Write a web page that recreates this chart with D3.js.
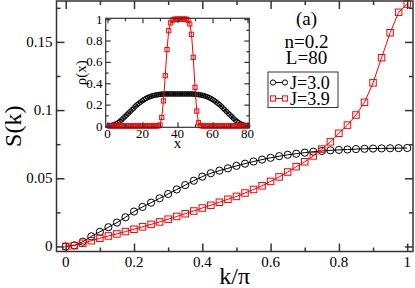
<!DOCTYPE html>
<html>
<head>
<meta charset="utf-8">
<script src="https://cdnjs.cloudflare.com/ajax/libs/d3/7.8.5/d3.min.js"></script>
<style>
  body { margin: 0; background: #fff; }
</style>
</head>
<body>
<div id="chart"></div>
<script>
// k/pi grid, m/40 for m = 0..40
var kvals = [0, 0.025, 0.05, 0.075, 0.1, 0.125, 0.15, 0.175, 0.2, 0.225, 0.25,
  0.275, 0.3, 0.325, 0.35, 0.375, 0.4, 0.425, 0.45, 0.475, 0.5,
  0.525, 0.55, 0.575, 0.6, 0.625, 0.65, 0.675, 0.7, 0.725, 0.75,
  0.775, 0.8, 0.825, 0.85, 0.875, 0.9, 0.925, 0.95, 0.975, 1];

// S(k) for J=3.0 (circles)
var skJ30 = [0, 0.0008, 0.0035, 0.0074, 0.0107, 0.0141, 0.0175, 0.0214, 0.0256, 0.029, 0.0321,
  0.0353, 0.0385, 0.0418, 0.045, 0.0482, 0.0512, 0.0537, 0.0556, 0.0573, 0.0591,
  0.0607, 0.0623, 0.0637, 0.065, 0.0662, 0.0672, 0.068, 0.0688, 0.0695, 0.07,
  0.0705, 0.0708, 0.0711, 0.0714, 0.0716, 0.0718, 0.0719, 0.072, 0.0721, 0.0722];

// S(k) for J=3.9 (squares)
var skJ39 = [0, 0.0006, 0.0023, 0.0042, 0.006, 0.0077, 0.0092, 0.0109, 0.0126, 0.0144, 0.0162,
  0.018, 0.02, 0.022, 0.024, 0.026, 0.0282, 0.0302, 0.0324, 0.0346, 0.0367,
  0.0392, 0.0418, 0.0445, 0.0477, 0.051, 0.0546, 0.0585, 0.0621, 0.0664, 0.0714,
  0.0767, 0.083, 0.089, 0.0964, 0.1057, 0.12, 0.1384, 0.1567, 0.1717, 0.1778];

// inset: site index 1..80
var sites = [1, 2, 3, 4, 5, 6, 7, 8, 9, 10, 11, 12, 13, 14, 15, 16, 17, 18, 19, 20,
  21, 22, 23, 24, 25, 26, 27, 28, 29, 30, 31, 32, 33, 34, 35, 36, 37, 38, 39, 40,
  41, 42, 43, 44, 45, 46, 47, 48, 49, 50, 51, 52, 53, 54, 55, 56, 57, 58, 59, 60,
  61, 62, 63, 64, 65, 66, 67, 68, 69, 70, 71, 72, 73, 74, 75, 76, 77, 78, 79, 80];

var rhoJ30 = [0.003, 0.005, 0.008, 0.013, 0.02, 0.03, 0.042, 0.056, 0.072, 0.088,
  0.104, 0.12, 0.136, 0.152, 0.167, 0.186, 0.2, 0.213, 0.225, 0.237,
  0.248, 0.258, 0.266, 0.273, 0.279, 0.284, 0.288, 0.291, 0.294, 0.296,
  0.298, 0.299, 0.3, 0.3, 0.3, 0.3, 0.3, 0.3, 0.3, 0.3,
  0.3, 0.3, 0.3, 0.3, 0.3, 0.3, 0.3, 0.3, 0.299, 0.298,
  0.296, 0.294, 0.291, 0.288, 0.284, 0.279, 0.273, 0.266, 0.258, 0.248,
  0.237, 0.225, 0.213, 0.2, 0.186, 0.167, 0.152, 0.136, 0.12, 0.104,
  0.088, 0.072, 0.056, 0.042, 0.03, 0.02, 0.013, 0.008, 0.005, 0.003];

var rhoJ39 = [0, 0, 0, 0, 0, 0, 0, 0, 0, 0,
  0, 0, 0, 0, 0, 0, 0, 0, 0, 0,
  0, 0, 0, 0, 0, 0, 0, 0, 0.001, 0.01,
  0.08, 0.235, 0.471, 0.715, 0.892, 0.965, 0.99, 0.998, 1, 1,
  1, 1, 1, 1, 1, 0.99, 0.955, 0.858, 0.643, 0.362,
  0.14, 0.031, 0.005, 0, 0, 0, 0, 0, 0, 0,
  0, 0, 0, 0, 0, 0, 0, 0, 0, 0,
  0, 0, 0, 0, 0, 0, 0, 0, 0, 0];

var xTicks = [0, 0.2, 0.4, 0.6, 0.8, 1],
  yTicks = [0, 0.05, 0.1, 0.15],
  xTickLabels = ["0", "0.2", "0.4", "0.6", "0.8", "1"],
  yTickLabels = ["0", "0.05", "0.1", "0.15"];

var insetXTicks = [0, 20, 40, 60, 80],
  insetYTicks = [0, 0.2, 0.4, 0.6, 0.8, 1],
  insetYTickLabels = ["0", "0.2", "0.4", "0.6", "0.8", "1"];

var legendLabels = ["J=3.0", "J=3.9"],
  annotation = ["(a)", "n=0.2", "L=80"];

var W = 415, H = 288;
var FONT = "'Liberation Serif'";
var frame = {left: 56.5, right: 413, top: 1, bottom: 251.5};
var inset = {left: 105.7, right: 249.3, top: 18.3, bottom: 127.3};

var svg = d3.select("#chart").append("svg")
  .attr("width", W)
  .attr("height", H);

// main scales
var xScale = d3.scaleLinear().domain([-0.027, 1.017]).range([frame.left, frame.right]),
  yScale = d3.scaleLinear().domain([-0.0037, 0.18]).range([frame.bottom, frame.top]);

// inset scales
var ixScale = d3.scaleLinear().domain([-1, 81]).range([inset.left, inset.right]),
  iyScale = d3.scaleLinear().domain([-0.012, 1.008]).range([inset.bottom, inset.top]);

/**
 * Box with inward ticks on all four sides (grace-style frame)
 */
function drawFrame(g, xs, ys, box, xMajor, xMinor, yMajor, yMinor, bigLen, smallLen, sw) {
  var w = box.right - box.left, h = box.bottom - box.top;
  g.append("rect")
    .attr("x", box.left).attr("y", box.top)
    .attr("width", w).attr("height", h)
    .attr("fill", "none").attr("stroke", "#333").attr("stroke-width", sw);

  var axes = [
    {ax: d3.axisBottom(xs), tr: "translate(0," + box.bottom + ")", vals: xMajor, len: bigLen},
    {ax: d3.axisBottom(xs), tr: "translate(0," + box.bottom + ")", vals: xMinor, len: smallLen},
    {ax: d3.axisTop(xs), tr: "translate(0," + box.top + ")", vals: xMajor, len: bigLen},
    {ax: d3.axisTop(xs), tr: "translate(0," + box.top + ")", vals: xMinor, len: smallLen},
    {ax: d3.axisLeft(ys), tr: "translate(" + box.left + ",0)", vals: yMajor, len: bigLen},
    {ax: d3.axisLeft(ys), tr: "translate(" + box.left + ",0)", vals: yMinor, len: smallLen},
    {ax: d3.axisRight(ys), tr: "translate(" + box.right + ",0)", vals: yMajor, len: bigLen},
    {ax: d3.axisRight(ys), tr: "translate(" + box.right + ",0)", vals: yMinor, len: smallLen}
  ];
  axes.forEach(function(a) {
    var ag = g.append("g")
      .attr("transform", a.tr)
      .call(a.ax.tickValues(a.vals).tickSize(-a.len).tickFormat(""));
    ag.select(".domain").remove();
    ag.selectAll("line").attr("stroke", "#333").attr("stroke-width", sw);
  });
}

function drawCircles(g, xs, ys, xv, yv, r, col) {
  g.selectAll(null)
    .data(xv.map(function(x, i) { return {x: x, y: yv[i]}; }))
    .enter().append("circle")
    .attr("cx", function(d) { return xs(d.x); })
    .attr("cy", function(d) { return ys(d.y); })
    .attr("r", r)
    .attr("fill", "none")
    .attr("stroke", col)
    .attr("stroke-width", 1);
}

function drawSquares(g, xs, ys, xv, yv, s, col) {
  g.selectAll(null)
    .data(xv.map(function(x, i) { return {x: x, y: yv[i]}; }))
    .enter().append("rect")
    .attr("x", function(d) { return xs(d.x) - s / 2; })
    .attr("y", function(d) { return ys(d.y) - s / 2; })
    .attr("width", s)
    .attr("height", s)
    .attr("fill", "none")
    .attr("stroke", col)
    .attr("stroke-width", 1);
}

function drawLine(g, xs, ys, xv, yv, col) {
  var line = d3.line()
    .x(function(d, i) { return xs(xv[i]); })
    .y(function(d) { return ys(d); });
  g.append("path")
    .attr("d", line(yv))
    .attr("fill", "none")
    .attr("stroke", col)
    .attr("stroke-width", 1);
}

function txt(g, size) {
  return g.append("text")
    .style("font-family", FONT)
    .style("font-size", size + "px")
    .attr("fill", "#000");
}

// ---- main plot
var main = svg.append("g");
drawLine(main, xScale, yScale, kvals, skJ30, "#000");
drawCircles(main, xScale, yScale, kvals, skJ30, 3.6, "#000");
drawLine(main, xScale, yScale, kvals, skJ39, "#ff0000");
drawSquares(main, xScale, yScale, kvals, skJ39, 6.5, "#ff0000");

drawFrame(main, xScale, yScale, frame,
  xTicks, [0.1, 0.3, 0.5, 0.7, 0.9],
  yTicks, [0.025, 0.075, 0.125, 0.175], 8, 4, 1.5);

xTicks.forEach(function(d, i) {
  txt(main, 15)
    .attr("x", xScale(d))
    .attr("y", 267)
    .attr("text-anchor", "middle")
    .text(xTickLabels[i]);
});

yTicks.forEach(function(d, i) {
  txt(main, 15)
    .attr("x", 52.5)
    .attr("y", yScale(d) + 5)
    .attr("text-anchor", "end")
    .text(yTickLabels[i]);
});

txt(main, 24)
  .attr("x", (frame.left + frame.right) / 2)
  .attr("y", 284)
  .attr("text-anchor", "middle")
  .text("k/\u03c0");

txt(main, 24)
  .attr("transform", "translate(21," + (frame.top + frame.bottom) / 2 + ") rotate(-90)")
  .attr("text-anchor", "middle")
  .text("S(k)");

// annotation
annotation.forEach(function(d, i) {
  txt(main, 19)
    .attr("x", 306.5)
    .attr("y", [25, 47.5, 63.5][i])
    .attr("text-anchor", "middle")
    .text(d);
});

// legend
var leg = main.append("g");
leg.append("rect")
  .attr("x", 268).attr("y", 72)
  .attr("width", 70).attr("height", 35.5)
  .attr("fill", "#fff").attr("stroke", "#333").attr("stroke-width", 1);
var legRows = [
  {label: legendLabels[0], col: "#000", shape: "circle", y: 82.5},
  {label: legendLabels[1], col: "#ff0000", shape: "square", y: 98.5}
];
legRows.forEach(function(r) {
  leg.append("line")
    .attr("x1", 273).attr("x2", 285)
    .attr("y1", r.y).attr("y2", r.y)
    .attr("stroke", r.col).attr("stroke-width", 1);
  [273, 285].forEach(function(x) {
    if (r.shape === "circle") {
      leg.append("circle").attr("cx", x).attr("cy", r.y).attr("r", 2.6)
        .attr("fill", "#fff").attr("stroke", r.col);
    } else {
      leg.append("rect").attr("x", x - 2.6).attr("y", r.y - 2.6)
        .attr("width", 5.2).attr("height", 5.2)
        .attr("fill", "#fff").attr("stroke", r.col);
    }
  });
  txt(leg, 18)
    .attr("x", 290)
    .attr("y", r.y + 6)
    .text(r.label);
});

// ---- inset
var ins = svg.append("g");
ins.append("rect")
  .attr("x", inset.left).attr("y", inset.top)
  .attr("width", inset.right - inset.left).attr("height", inset.bottom - inset.top)
  .attr("fill", "#fff");

drawLine(ins, ixScale, iyScale, sites, rhoJ30, "#000");
drawCircles(ins, ixScale, iyScale, sites, rhoJ30, 2.3, "#000");
drawLine(ins, ixScale, iyScale, sites, rhoJ39, "#ff0000");
drawSquares(ins, ixScale, iyScale, sites, rhoJ39, 4.2, "#ff0000");

drawFrame(ins, ixScale, iyScale, inset,
  insetXTicks, [10, 30, 50, 70],
  insetYTicks, [0.1, 0.3, 0.5, 0.7, 0.9], 5, 3, 1.2);

insetXTicks.forEach(function(d) {
  txt(ins, 13)
    .attr("x", ixScale(d))
    .attr("y", 138)
    .attr("text-anchor", "middle")
    .text(d);
});

insetYTicks.forEach(function(d, i) {
  txt(ins, 13)
    .attr("x", 102.5)
    .attr("y", iyScale(d) + 4.5)
    .attr("text-anchor", "end")
    .text(insetYTickLabels[i]);
});

txt(ins, 15)
  .attr("transform", "translate(85.5," + (inset.top + inset.bottom) / 2 + ") rotate(-90)")
  .attr("text-anchor", "middle")
  .text("\u03c1(x)");

txt(ins, 15)
  .attr("x", (inset.left + inset.right) / 2)
  .attr("y", 148)
  .attr("text-anchor", "middle")
  .text("x");
</script>
</body>
</html>
